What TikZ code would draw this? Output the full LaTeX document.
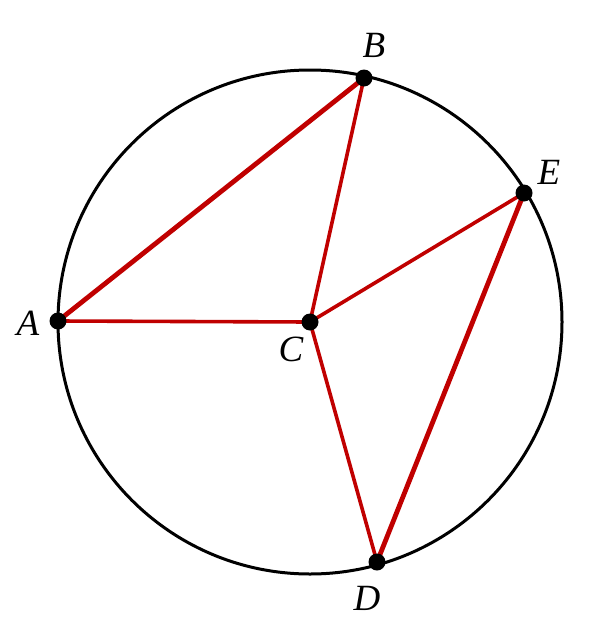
\documentclass[tikz,border=0pt]{standalone}
\usepackage{fontspec}
\setmainfont{Liberation Serif}
\begin{document}
\begin{tikzpicture}[x=1pt,y=-1pt,
  dot/.style={circle,fill=black,inner sep=0pt,minimum size=17pt},
  lbl/.style={font=\fontsize{37}{42}\selectfont\itshape,inner sep=0pt},
  thickred/.style={draw={rgb,255:red,192;green,0;blue,0},line width=4.8pt},
  thinred/.style={draw={rgb,255:red,192;green,0;blue,0},line width=3.6pt}]
\useasboundingbox (0,0) rectangle (609,640);
\coordinate (O) at (310,322);
\draw[line width=3pt] (O) circle (252);
\coordinate (A) at (58,321);
\coordinate (B) at (364,78);
\coordinate (E) at (524,193);
\coordinate (D) at (377,562);
\coordinate (C) at (310,322);
\draw[thickred] (A) -- (B);
\draw[thickred] (E) -- (D);
\draw[thinred] (A) -- (C);
\draw[thinred] (C) -- (B);
\draw[thinred] (C) -- (E);
\draw[thinred] (C) -- (D);
\node[dot] (nA) at (A) {};
\node[dot] (nB) at (B) {};
\node[dot] (nE) at (E) {};
\node[dot] (nD) at (D) {};
\node[dot] (nC) at (C) {};
\node[lbl] (lA) at (28,323) {A};
\node[lbl] (lB) at (374,45) {B};
\node[lbl] (lE) at (549,172) {E};
\node[lbl] (lD) at (367,598) {D};
\node[lbl] (lC) at (291,349) {C};
\end{tikzpicture}
\end{document}
